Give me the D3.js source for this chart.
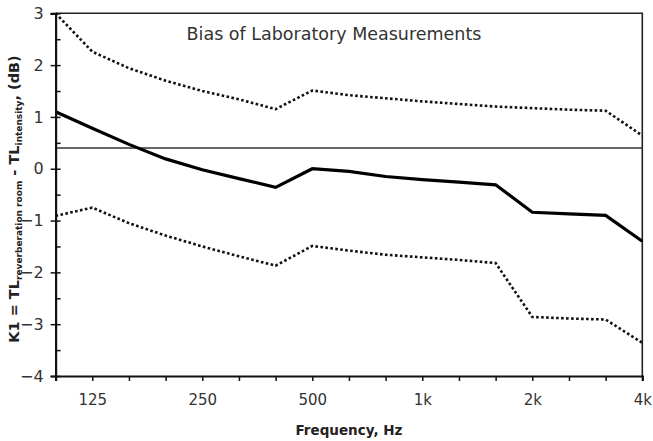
<!DOCTYPE html>
<html><head><meta charset="utf-8">
<script src="https://cdn.jsdelivr.net/npm/d3@7"></script>
<style>
body{margin:0;background:#fff;}
text{font-family:"DejaVu Sans",Verdana,sans-serif;}
</style></head>
<body><svg id="chart" width="653" height="441"></svg>
<script>
// One-third octave bands (Hz)
const bands = ["100","125","160","200","250","315","400","500","630","800","1k","1.25k","1.6k","2k","2.5k","3.15k","4k"];
const labeledBands = ["125","250","500","1k","2k","4k"];
// K1 mean bias (dB)
const meanBias  = [1.10, 0.78, 0.47, 0.19, -0.02, -0.19, -0.36, 0.00, -0.05, -0.15, -0.21, -0.26, -0.31, -0.84, -0.87, -0.90, -1.40];
// Upper and lower limits (dB)
const upperLimit = [3.00, 2.26, 1.94, 1.70, 1.50, 1.34, 1.15, 1.51, 1.42, 1.36, 1.30, 1.25, 1.20, 1.17, 1.14, 1.12, 0.64];
const lowerLimit = [-0.91, -0.75, -1.05, -1.29, -1.50, -1.69, -1.87, -1.49, -1.58, -1.66, -1.71, -1.76, -1.82, -2.86, -2.89, -2.91, -3.36];
const referenceLevel = 0.4;
const yMajorTicks = [-4, -3, -2, -1, 0, 1, 2, 3];
const yMinorTicks = [-3.5, -2.5, -1.5, -0.5, 0.5, 1.5, 2.5];

const svg = d3.select("#chart");
const L = 55.6, R = 642.3, T = 13.3, B = 376;

const x = d3.scalePoint().domain(bands).range([L, R]);
const y = d3.scaleLinear().domain([-4, 3]).range([B, T]);

// frame (top & right)
svg.append("path")
  .attr("d", `M${L},${T}H${R}V${B}`)
  .attr("fill", "none").attr("stroke", "#222").attr("stroke-width", 1.6);

// reference line
svg.append("line")
  .attr("x1", L).attr("x2", R)
  .attr("y1", y(referenceLevel)).attr("y2", y(referenceLevel))
  .attr("stroke", "#333").attr("stroke-width", 1.5);

const line = d3.line().x((d, i) => x(bands[i])).y(d => y(d));

svg.append("path").datum(upperLimit)
  .attr("d", line).attr("fill", "none").attr("stroke", "#111")
  .attr("stroke-width", 2.6).attr("stroke-dasharray", "2.6,2.4");
svg.append("path").datum(lowerLimit)
  .attr("d", line).attr("fill", "none").attr("stroke", "#111")
  .attr("stroke-width", 2.6).attr("stroke-dasharray", "2.6,2.4");
svg.append("path").datum(meanBias)
  .attr("d", line).attr("fill", "none").attr("stroke", "#000")
  .attr("stroke-width", 3.2).attr("stroke-linejoin", "miter");

// Y axis (outer ticks + labels)
const yAxis = svg.append("g").attr("transform", `translate(${L},0)`)
  .call(d3.axisLeft(y).tickValues(yMajorTicks).tickSize(5).tickPadding(7)
    .tickFormat(d => d < 0 ? "\u2212" + Math.abs(d) : d));
yAxis.select(".domain").attr("stroke", "#111").attr("stroke-width", 2.2);
yAxis.selectAll(".tick line").attr("stroke", "#111").attr("stroke-width", 1.5);
yAxis.selectAll("text").attr("font-size", 16).attr("fill", "#333")
  .attr("font-family", "DejaVu Sans, Verdana, sans-serif");
// inner ticks
const yInner = svg.append("g").attr("transform", `translate(${L},0)`)
  .call(d3.axisRight(y).tickValues(yMajorTicks.concat(yMinorTicks)).tickSize(5).tickFormat(""));
yInner.select(".domain").remove();
yInner.selectAll(".tick line").attr("stroke", "#111").attr("stroke-width", 1.5);

// X axis
const xAxis = svg.append("g").attr("transform", `translate(0,${B})`)
  .call(d3.axisBottom(x).tickValues(bands.slice(1)).tickSize(5).tickPadding(13)
    .tickFormat(d => labeledBands.includes(d) ? d : ""));
xAxis.select(".domain").attr("stroke", "#111").attr("stroke-width", 2.2);
xAxis.selectAll(".tick line").attr("stroke", "#111").attr("stroke-width", 1.5);
xAxis.selectAll("text").attr("font-size", 15).attr("fill", "#333")
  .attr("font-family", "DejaVu Sans, Verdana, sans-serif");

// Title
svg.append("text").attr("x", 334).attr("y", 39.5).attr("text-anchor", "middle")
  .attr("font-size", 17.5).attr("fill", "#333").text("Bias of Laboratory Measurements");

// X title
svg.append("text").attr("x", (L + R) / 2).attr("y", 435).attr("text-anchor", "middle")
  .attr("font-size", 13.5).attr("font-weight", "bold").attr("fill", "#222").text("Frequency, Hz");

// Y title
const yt = svg.append("text").attr("transform", "translate(19,199) rotate(-90)")
  .attr("text-anchor", "middle").attr("font-size", 14.5).attr("font-weight", "bold").attr("fill", "#222");
yt.append("tspan").text("K1 = TL");
yt.append("tspan").attr("font-size", 9).attr("dy", 3).text("reverberation room");
yt.append("tspan").attr("dy", -3).text(" - TL");
yt.append("tspan").attr("font-size", 9).attr("dy", 3).text("intensity");
yt.append("tspan").attr("dy", -3).text(", (dB)");
</script></body></html>
